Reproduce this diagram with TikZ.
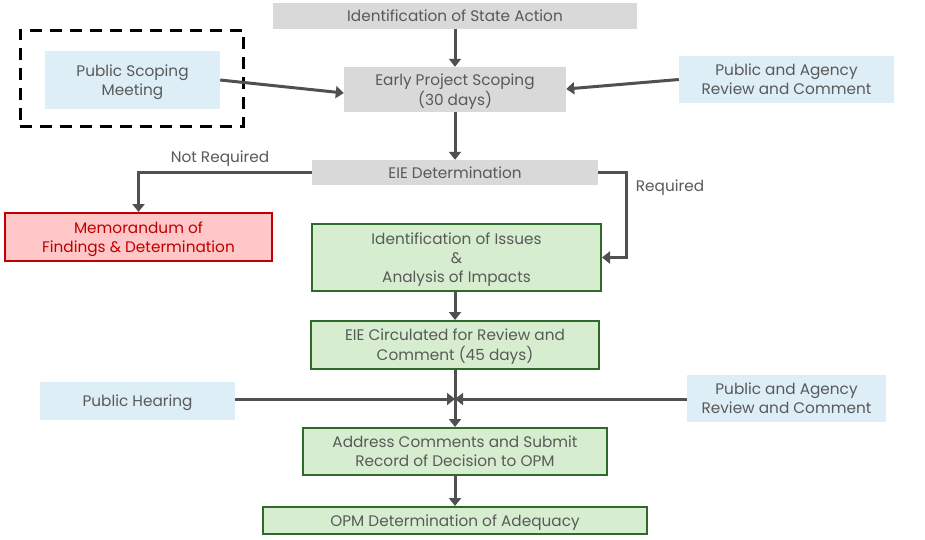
\documentclass[tikz,border=0pt]{standalone}
\usepackage{fontspec}
\setmainfont{Poppins}
\usetikzlibrary{arrows.meta}
\definecolor{txt}{HTML}{595959}
\definecolor{ln}{HTML}{505050}
\definecolor{grayfill}{HTML}{D9D9D9}
\definecolor{bluefill}{HTML}{DEEEF6}
\definecolor{greenfill}{HTML}{D6EECF}
\definecolor{greenline}{HTML}{2F6A2A}
\definecolor{redfill}{HTML}{FFC7C7}
\definecolor{redline}{HTML}{C00000}
\newcommand\dtxt[1]{\raisebox{-2pt}[\height][\depth]{\begin{tabular}{@{}c@{}}#1\end{tabular}}}
\tikzset{
  base/.style={inner sep=0pt, align=center, text=txt, font=\fontsize{15.3}{19}\selectfont},
  graybox/.style={base, fill=grayfill},
  bluebox/.style={base, fill=bluefill},
  greenbox/.style={base, fill=greenfill, draw=greenline, line width=2pt},
  redbox/.style={base, fill=redfill, draw=redline, line width=2pt, text=redline},
  conn/.style={draw=ln, line width=3pt, -{Triangle[length=8pt,width=12pt]}},
  plain/.style={draw=ln, line width=3pt},
  lbl/.style={text=txt, font=\fontsize{15.3}{19}\selectfont, inner sep=0pt}
}
\begin{document}
\begin{tikzpicture}[x=1pt,y=-1pt]
\useasboundingbox[fill=white] (0,0) rectangle (925,539);
% dashed frame
\node[draw=black, line width=3pt, dash pattern=on 12pt off 8pt, minimum width=223pt, minimum height=96pt, inner sep=0pt] (frame) at (131.5,78) {};
\node[graybox, minimum width=364pt, minimum height=26pt] (state) at (455,16) {\dtxt{Identification of State Action}};
\node[graybox, minimum width=222pt, minimum height=45pt] (scope) at (455,89.5) {\dtxt{Early Project Scoping\\(30 days)}};
\node[bluebox, minimum width=175pt, minimum height=58pt] (psm) at (132.5,80) {\dtxt{Public Scoping\\Meeting}};
\node[bluebox, minimum width=215pt, minimum height=47pt] (par1) at (786.5,79.5) {\dtxt{Public and Agency\\Review and Comment}};
\node[graybox, minimum width=286pt, minimum height=25pt] (eie) at (455,172.5) {\dtxt{EIE Determination}};
\node[redbox, minimum width=267pt, minimum height=48pt] (memo) at (138.5,237) {\dtxt{Memorandum of\\Findings \& Determination}};
\node[greenbox, minimum width=289pt, minimum height=67pt] (issues) at (456.5,257.5) {\dtxt{Identification of Issues\\\&\\Analysis of Impacts}};
\node[greenbox, minimum width=288pt, minimum height=48pt] (circ) at (455,345) {\dtxt{EIE Circulated for Review and\\Comment (45 days)}};
\node[bluebox, minimum width=195pt, minimum height=38pt] (hear) at (137.5,401) {\dtxt{Public Hearing}};
\node[bluebox, minimum width=199pt, minimum height=47pt] (par2) at (786.5,398.5) {\dtxt{Public and Agency\\Review and Comment}};
\node[greenbox, minimum width=304pt, minimum height=47pt] (addr) at (455,451.5) {\dtxt{Address Comments and Submit\\Record of Decision to OPM}};
\node[greenbox, minimum width=384pt, minimum height=27pt] (opm) at (455,520.5) {\dtxt{OPM Determination of Adequacy}};
\coordinate (junc) at (455,399);
% connectors
\draw[conn] (state.south) -- (scope.north);
\draw[conn] (psm.east |- 0,80) -- (scope.west |- 0,93);
\draw[conn] (par1.west) -- (scope.east |- 0,89);
\draw[conn] (scope.south) -- (eie.north);
\draw[conn] (eie.west) -| (memo.north);
\node[lbl] (nreq) at (220,159) {Not Required};
\draw[conn] (eie.east) -- (626,172.5) |- (issues.east);
\node[lbl] (req) at (670,188) {Required};
\draw[conn] (issues.south -| circ.north) -- (circ.north);
\draw[plain] (circ.south) -- (junc);
\draw[conn] (junc) -- (addr.north);
\draw[conn] (hear.east |- junc) -- (junc);
\draw[conn] (par2.west |- junc) -- (junc);
\draw[conn] (addr.south) -- (opm.north);
\end{tikzpicture}
\end{document}
